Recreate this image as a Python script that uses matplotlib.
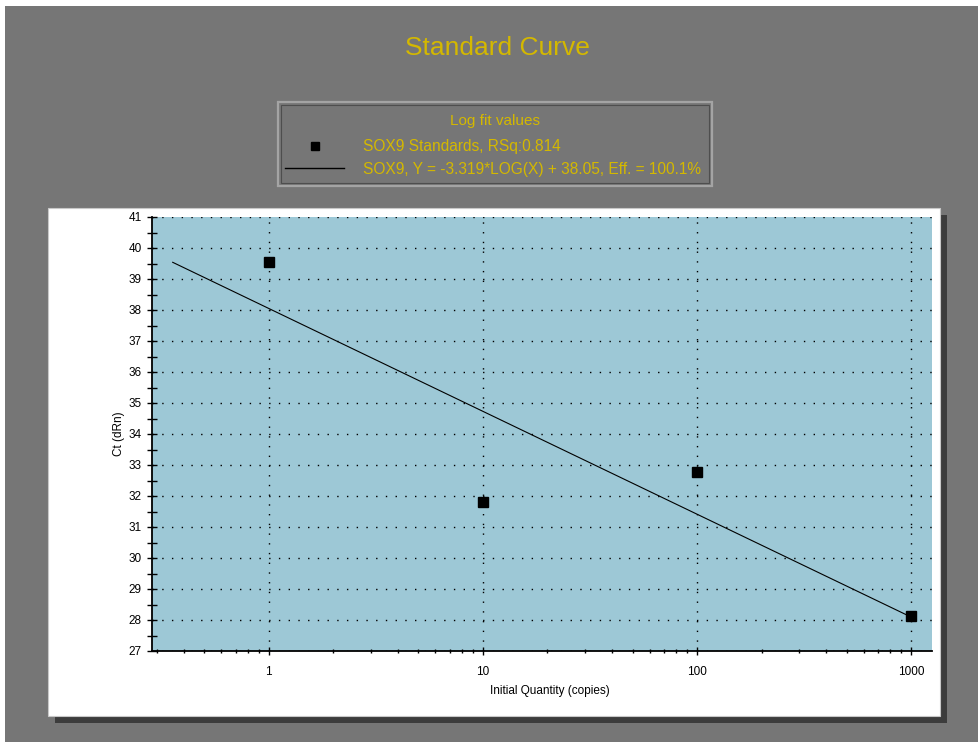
import matplotlib
matplotlib.use("Agg")
import matplotlib.pyplot as plt
from matplotlib.patches import Rectangle
from matplotlib.lines import Line2D
import numpy as np

# Data ------------------------------------------------------------------------
quantity = [1, 10, 100, 1000]
ct_values = [39.55, 31.8, 32.77, 28.13]
fit_slope = -3.319
fit_intercept = 38.05
fit_range = [0.356, 1000]
series_label = "SOX9 Standards, RSq:0.814"
fit_label = "SOX9, Y = -3.319*LOG(X) + 38.05, Eff. = 100.1%"

# Colours ---------------------------------------------------------------------
gray = "#767676"
gold = "#D4B800"
plot_bg = "#9DC8D6"

plt.rcParams["font.family"] = ["Liberation Sans", "DejaVu Sans"]

W, H = 979, 742
fig = plt.figure(figsize=(W / 100, H / 100), dpi=100, facecolor="white")


def box(x0, y0, x1, y1):
    # pixel box (top-left origin) -> figure fraction rectangle args
    return (x0 / W, 1 - y1 / H), (x1 - x0) / W, (y1 - y0) / H


# Background panels
xy, w, h = box(5, 6, W, H)
fig.add_artist(Rectangle(xy, w, h, transform=fig.transFigure, facecolor=gray,
                         edgecolor="none", zorder=-5))
xy, w, h = box(55, 215, 947, 723)
fig.add_artist(Rectangle(xy, w, h, transform=fig.transFigure, facecolor="#3c3c3c",
                         edgecolor="none", zorder=-4))
xy, w, h = box(48, 208, 940, 716)
fig.add_artist(Rectangle(xy, w, h, transform=fig.transFigure, facecolor="white",
                         edgecolor="#c8c8c8", linewidth=0.8, zorder=-3))
# Legend frame (3D look)
xy, w, h = box(278, 102, 712, 186)
fig.add_artist(Rectangle(xy, w, h, transform=fig.transFigure, facecolor=gray,
                         edgecolor="#a4a4a4", linewidth=1.6, zorder=-2))
xy, w, h = box(281, 105, 709, 183)
fig.add_artist(Rectangle(xy, w, h, transform=fig.transFigure, facecolor="none",
                         edgecolor="#4e4e4e", linewidth=0.8, zorder=-1))

fig.text(497 / W, 1 - 48 / H, "Standard Curve", color=gold, fontsize=19,
         ha="center", va="center")
fig.text(495 / W, 1 - 121 / H, "Log fit values", color=gold, fontsize=11,
         ha="center", va="center")

# Axes ------------------------------------------------------------------------
ax = fig.add_axes([152 / W, 1 - 651 / H, (932 - 152) / W, (651 - 217) / H])
ax.set_facecolor(plot_bg)

fit_x = np.array(fit_range)
fit_y = fit_slope * np.log10(fit_x) + fit_intercept
ax.plot(fit_x, fit_y, color="black", linewidth=0.8, zorder=3)
ax.plot(quantity, ct_values, linestyle="none", marker="s", markersize=7.2,
        color="black", zorder=4)

ax.set_xscale("log")
ax.set_xlim(0.285, 1250)
ax.set_ylim(27, 41)
ax.set_xticks(quantity)
ax.set_xticklabels(["1", "10", "100", "1000"])
ax.set_yticks(np.arange(27, 42, 1))
ax.set_yticks(np.arange(27.5, 41, 1), minor=True)

for s in ["top", "right"]:
    ax.spines[s].set_visible(False)
for s in ["left", "bottom"]:
    ax.spines[s].set_linewidth(1.3)

ax.grid(True, which="major", color="black", linestyle=(0, (1, 6)), linewidth=1)
ax.tick_params(axis="y", which="both", direction="inout", length=7, width=1,
               labelsize=8.5, pad=4)
ax.tick_params(axis="x", which="major", direction="inout", length=6, width=1,
               labelsize=8.5, pad=8)
ax.tick_params(axis="x", which="minor", direction="inout", length=3.5, width=1)
ax.xaxis.set_minor_formatter(matplotlib.ticker.NullFormatter())

ax.set_xlabel("Initial Quantity (copies)", fontsize=8.5)
ax.set_ylabel("Ct (dRn)", fontsize=8.5)
ax.xaxis.set_label_coords(0.51, -0.078)
ax.yaxis.set_label_coords(-0.034, 0.5)

# Legend ----------------------------------------------------------------------
handles = [Line2D([], [], linestyle="none", marker="s", markersize=6, color="black"),
           Line2D([], [], color="black", linewidth=1)]
leg = ax.legend(handles, [series_label, fit_label], loc="upper left",
                bbox_to_anchor=(285 / W, 1 - 139 / H), bbox_transform=fig.transFigure,
                frameon=False, fontsize=11.2, handlelength=3.8, handletextpad=1.2,
                labelspacing=0.5, borderpad=0, borderaxespad=0)
for t in leg.get_texts():
    t.set_color(gold)

fig.savefig("out.png", dpi=100)
